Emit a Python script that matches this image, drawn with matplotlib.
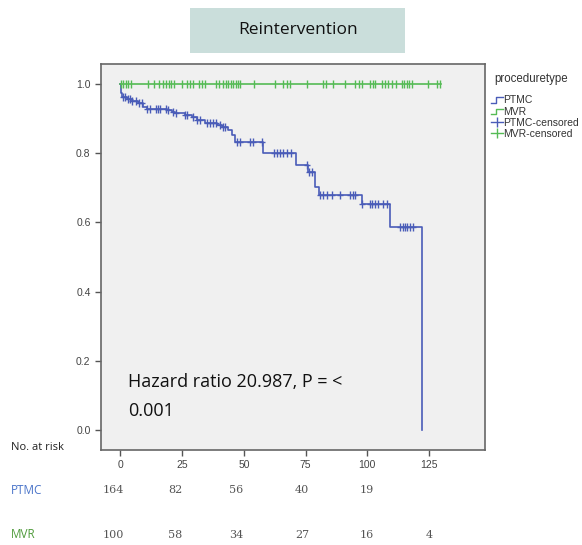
import numpy as np
import matplotlib
matplotlib.use("Agg")
import matplotlib.pyplot as plt
from matplotlib.patches import Rectangle
from matplotlib.lines import Line2D

# ---- data ----
ptmc_event_times = [0.0, 0.3, 0.5, 2.5, 4.5, 7.2, 9.3, 10.6, 18.7, 20.7, 22.1, 26.1, 28.8, 30.9,
                    34.2, 39.0, 41.3, 43.7, 45.1, 46.4, 57.9, 71.0, 75.8, 79.0, 80.5, 97.7,
                    109.2, 122.0]
ptmc_survival = [1.0, 0.975, 0.963, 0.956, 0.950, 0.944, 0.934, 0.929, 0.925, 0.920, 0.915, 0.910,
                 0.904, 0.896, 0.888, 0.883, 0.877, 0.867, 0.853, 0.833, 0.800, 0.765, 0.747,
                 0.703, 0.680, 0.653, 0.588, 0.0]
ptmc_censor_times = [0.9, 1.8, 2.9, 3.8, 4.8, 6.3, 7.5, 8.8, 10.9, 12, 14.3, 15.1, 16, 18.4, 19.1,
                     21.4, 22.5, 26.3, 27.1, 29.5, 31.1, 32.2, 34.9, 36.3, 37.4, 38.7, 40.3, 41.6,
                     42.3, 47.1, 48.4, 52.5, 53.8, 57.2, 62.2, 63.3, 64.6, 66, 67.3, 69, 75.4,
                     76.5, 77.5, 80.8, 82.2, 83.5, 85.6, 88.9, 93, 94.1, 95, 98.0, 101.1, 102,
                     103.1, 104.5, 106.5, 107.9, 113.2, 114.3, 115.3, 116.2, 117.3, 118.4]

mvr_event_times = [0.0, 130.0]
mvr_survival = [1.0, 1.0]
mvr_censor_times = [0.3, 1.1, 2.1, 3.2, 4.1, 11.3, 13.6, 15.6, 17.4, 18.4, 19.5, 20.6, 21.7, 24.8,
                    26.8, 28.2, 29.2, 31.9, 32.9, 34.2, 38.7, 40, 41.7, 42.7, 43.7, 44.6, 45.7,
                    46.7, 47.8, 48.4, 54.2, 62.6, 66, 67.4, 68.7, 75.4, 82.2, 83.1, 86, 91, 95,
                    96.8, 97.7, 101.1, 102.2, 103.1, 105.8, 107.2, 108.5, 109.9, 111.6, 113.9,
                    114.9, 116, 117, 118, 124.7, 128.1, 129.5]

x_ticks = [0, 25, 50, 75, 100, 125]
y_ticks = [0.0, 0.2, 0.4, 0.6, 0.8, 1.0]
risk_groups = ["PTMC", "MVR"]
risk_ptmc = ["164", "82", "56", "40", "19", ""]
risk_mvr = ["100", "58", "34", "27", "16", "4"]

title_text = "Reintervention"
hr_line1 = "Hazard ratio 20.987, P = <"
hr_line2 = "0.001"
legend_title = "proceduretype"
legend_labels = ["PTMC", "MVR", "PTMC-censored", "MVR-censored"]

# ---- style ----
BLUE = "#4a5cb8"
GREEN = "#55bb55"
plt.rcParams['font.family'] = ['Liberation Sans', 'DejaVu Sans']

W, H = 582, 545
fig = plt.figure(figsize=(W / 100, H / 100), dpi=100)
fig.patch.set_facecolor("white")

def fx(px):
    return px / W

def fy(py):
    return 1 - py / H

ax = fig.add_axes([fx(101), fy(450), fx(485) - fx(101), fy(64) - fy(450)])
ax.set_facecolor("#f0f0f0")
ax.set_xlim(-7.9, 147.7)
ax.set_ylim(-0.058, 1.058)

def surv_at(times, surv, t):
    idx = np.searchsorted(np.asarray(times), np.asarray(t), side="right") - 1
    return np.asarray(surv)[idx]

# PTMC curve
ax.step(ptmc_event_times, ptmc_survival, where="post", color=BLUE, lw=1.2)
pc_y = surv_at(ptmc_event_times, ptmc_survival, ptmc_censor_times)
ax.plot(ptmc_censor_times, pc_y, linestyle="none", marker="|", markersize=6, mew=1.0, color=BLUE)
ax.plot(ptmc_censor_times, pc_y, linestyle="none", marker="_", markersize=5, mew=1.0, color=BLUE)

# MVR curve
ax.step(mvr_event_times, mvr_survival, where="post", color=GREEN, lw=1.2)
ax.plot(mvr_censor_times, surv_at(mvr_event_times, mvr_survival, mvr_censor_times),
        linestyle="none", marker="|", markersize=6, mew=1.0, color=GREEN)

ax.set_xticks(x_ticks)
ax.set_yticks(y_ticks)
ax.set_yticklabels([f"{v:.1f}" for v in y_ticks])
ax.tick_params(axis="both", direction="out", length=4, width=1, color="#555555",
               labelsize=7.5, labelcolor="#444444")
for sp in ax.spines.values():
    sp.set_color("#666666")
    sp.set_linewidth(1.2)

fig.text(fx(128), fy(382), hr_line1, fontsize=13,
         family=['Open Sans', 'DejaVu Sans'], va="center", ha="left", color="#111111")
fig.text(fx(128), fy(411), hr_line2, fontsize=13,
         family=['Open Sans', 'DejaVu Sans'], va="center", ha="left", color="#111111")


class StepHandler:
    def legend_artist(self, legend, orig_handle, fontsize, handlebox):
        x0, y0 = handlebox.xdescent, handlebox.ydescent
        w, h = handlebox.width, handlebox.height
        xs = [x0, x0 + w * 0.45, x0 + w * 0.45, x0 + w]
        ys = [y0 + h * 0.1, y0 + h * 0.1, y0 + h * 0.8, y0 + h * 0.8]
        ln = Line2D(xs, ys, color=orig_handle.get_color(), lw=1.0,
                    transform=handlebox.get_transform())
        handlebox.add_artist(ln)
        return ln


step_b = Line2D([0], [0], color=BLUE, lw=1.0)
step_g = Line2D([0], [0], color=GREEN, lw=1.0)
handles = [step_b, step_g,
           Line2D([0], [0], color=BLUE, lw=1.0, marker="|", markersize=7),
           Line2D([0], [0], color=GREEN, lw=1.0, marker="|", markersize=7)]
leg = fig.legend(handles, legend_labels, loc="upper left",
                 bbox_to_anchor=(fx(484), fy(88)), frameon=False, fontsize=7.5,
                 handlelength=1.1, handletextpad=0.05,
                 labelspacing=0.12, borderpad=0.2,
                 handler_map={step_b: StepHandler(), step_g: StepHandler()})
for t in leg.get_texts():
    t.set_color("#333333")
fig.text(fx(494), fy(79), legend_title, fontsize=8.3, ha="left", va="center", color="#333333")

# title box
fig.patches.append(Rectangle((fx(190), fy(53)), fx(405) - fx(190), fy(8) - fy(53),
                             transform=fig.transFigure, facecolor="#cadedb", edgecolor="none"))
fig.text(fx(298), fy(30), title_text, fontsize=12.5, family=['Open Sans', 'DejaVu Sans'],
         ha="center", va="center", color="#111111")

# number at risk
fig.text(fx(11), fy(448), "No. at risk", fontsize=8, ha="left", va="center", color="#222222",
         family=['Open Sans', 'DejaVu Sans'])
fig.text(fx(11), fy(490), risk_groups[0], fontsize=8.5, ha="left", va="center", color="#4a74c9",
         family=['Open Sans', 'DejaVu Sans'])
fig.text(fx(11), fy(535), risk_groups[1], fontsize=8.5, ha="left", va="center", color="#4e9a3a",
         family=['Open Sans', 'DejaVu Sans'])
risk_x_px = [113, 175, 236, 302, 367, 429]
for xp, a, b in zip(risk_x_px, risk_ptmc, risk_mvr):
    if a:
        fig.text(fx(xp), fy(490), a, fontsize=8, ha="center", va="center", color="#555555",
                 family=['DejaVu Serif'])
    if b:
        fig.text(fx(xp), fy(535), b, fontsize=8, ha="center", va="center", color="#555555",
                 family=['DejaVu Serif'])

fig.savefig("out.png", dpi=100)
